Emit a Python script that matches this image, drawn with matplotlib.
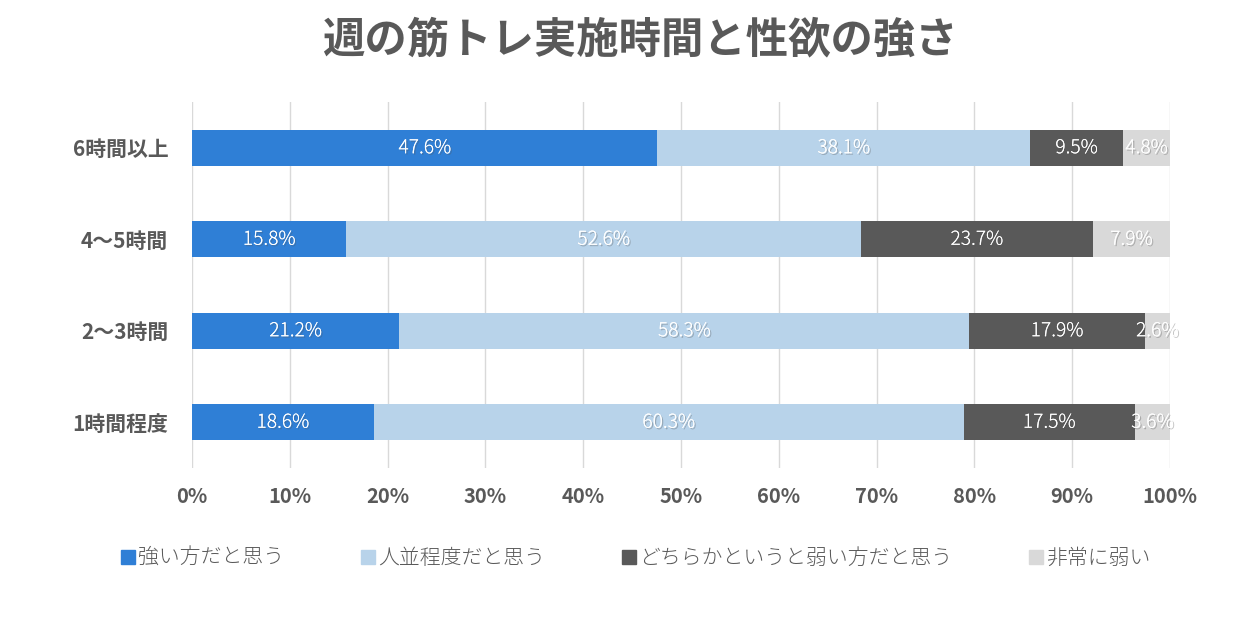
import matplotlib.pyplot as plt
import matplotlib.patheffects as pe
from matplotlib.lines import Line2D
import numpy as np

plt.rcParams['font.family'] = ['Noto Sans CJK JP', 'DejaVu Sans']

# Data ------------------------------------------------------------------------

categories = ['1時間程度', '2～3時間', '4～5時間', '6時間以上']
series_names = ['強い方だと思う', '人並程度だと思う', 'どちらかというと弱い方だと思う', '非常に弱い']
strong = [18.6, 21.2, 15.8, 47.6]
average = [60.3, 58.3, 52.6, 38.1]
weakish = [17.5, 17.9, 23.7, 9.5]
very_weak = [3.6, 2.6, 7.9, 4.8]
x_ticks = [0, 10, 20, 30, 40, 50, 60, 70, 80, 90, 100]

colors = ['#2F7FD6', '#B8D3EA', '#595959', '#D9D9D9']
TEXT = '#595959'

# Plot ------------------------------------------------------------------------

fig = plt.figure(figsize=(12.44, 6.24), dpi=100)
ax = fig.add_axes([0.1543, 0.25, 0.9405 - 0.1543, 0.5865])

y = np.arange(len(categories))
left = np.zeros(len(categories))
shadow = [pe.withSimplePatchShadow(offset=(1, -1), alpha=0.35, shadow_rgbFace='#555555'), pe.Normal()]
for vals, col in zip([strong, average, weakish, very_weak], colors):
    vals = np.array(vals)
    ax.barh(y, vals, left=left, height=0.39, color=col, zorder=3)
    for yi, l, v in zip(y, left, vals):
        ax.text(l + v / 2, yi, f'{v:.1f}%', ha='center', va='center',
                color='white', fontsize=13.8, fontweight='light', zorder=4, path_effects=shadow)
    left += vals

ax.set_xlim(0, 100)
ax.set_ylim(-0.5, 3.5)
ax.set_xticks(x_ticks)
ax.set_xticklabels([f'{t}%' for t in x_ticks])
ax.set_yticks(y)
ax.set_yticklabels(categories)
ax.tick_params(length=0, colors=TEXT)
ax.tick_params(axis='x', pad=13, labelsize=14.5)
ax.tick_params(axis='y', pad=17, labelsize=15)
for lab in ax.get_xticklabels() + ax.get_yticklabels():
    lab.set_fontweight('bold')
ax.grid(axis='x', color='#D9D9D9', linewidth=1, zorder=0)
for s in ax.spines.values():
    s.set_visible(False)

fig.text(0.514, 1 - 40 / 624, '週の筋トレ実施時間と性欲の強さ', ha='center', va='center',
         fontsize=30.5, fontweight='bold', color=TEXT)

handles = [Line2D([], [], marker='s', linestyle='none', markersize=10, color=c) for c in colors]
leg = fig.legend(handles, series_names, loc='center left', bbox_to_anchor=(0.082, 1 - 558 / 624),
                 ncol=4, frameon=False, fontsize=15, columnspacing=3.65, handletextpad=0.15,
                 handlelength=0.7)
for t in leg.get_texts():
    t.set_color(TEXT)
    t.set_fontweight('light')

fig.savefig('out.png', dpi=100, facecolor='white')
